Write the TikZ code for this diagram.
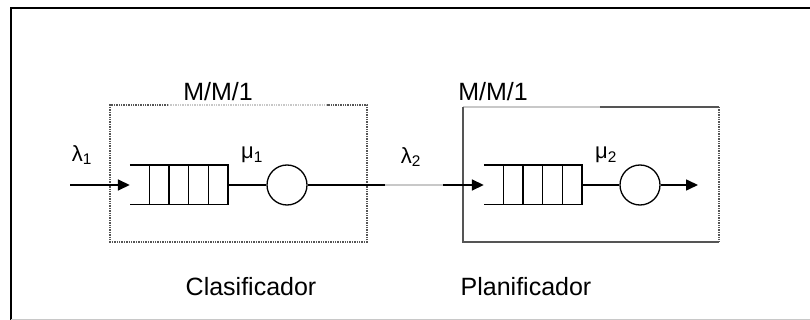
\documentclass[tikz,border=0pt]{standalone}
\usepackage{fontspec}
\setmainfont{Liberation Sans}
\usetikzlibrary{arrows.meta,positioning}
\definecolor{boxgray}{HTML}{555555}
\definecolor{fadegray}{HTML}{C8C8C8}

\begin{document}
\begin{tikzpicture}[x=1pt, y=-1pt,
  every node/.style={font=\fontsize{25}{28}\selectfont, inner sep=0pt},
  rate/.style={font=\fontsize{22}{24}\selectfont},
  queuebox/.style={minimum width=98pt, minimum height=39pt},
  server/.style={circle, draw, line width=1.3pt, minimum size=40pt},
  wire/.style={line width=1.6pt},
  station/.style={draw=boxgray, line width=1.4pt},
  >={Triangle[length=12pt,width=11pt]},
]
  \useasboundingbox (0,0) rectangle (810,320);

  % outer frame
  \draw[line width=1.6pt] (11,320) -- (11,8) -- (810,8);
  \draw[fadegray, line width=1pt] (11,319) -- (810,319);

  % first station: M/M/1 classifier
  \draw[station, densely dotted] (168,105) -- (110,105) -- (110,242) -- (367,242) -- (367,105) -- (327,105);
  \draw[station, densely dotted, fadegray] (168,105) -- (327,105);
  \node (q1) [queuebox] at (179,185) {};
  \node (s1) [server] at (287,185) {};
  \draw[wire] (q1.north west) -- (q1.north east) -- (q1.south east) -- (q1.south west);
  \foreach \i in {1,...,4}
    \draw[line width=1.3pt] (q1.north west) ++(\i*19.6,0) -- ++(0,39);

  % second station: M/M/1 scheduler
  \draw[station] (600,107) -- (719,107);
  \draw[station, fadegray] (463,107) -- (600,107);
  \draw[station] (463,107) -- (463,242) -- (719,242);
  \draw[station, densely dotted] (719,107) -- (719,242);
  \node (q2) [queuebox] at (533,185) {};
  \node (s2) [server] at (640,185) {};
  \draw[wire] (q2.north west) -- (q2.north east) -- (q2.south east) -- (q2.south west);
  \foreach \i in {1,...,4}
    \draw[line width=1.3pt] (q2.north west) ++(\i*19.6,0) -- ++(0,39);

  % flow
  \coordinate (in1) at (70,185);
  \coordinate (gap1) at (385,185);
  \coordinate (gap2) at (443,185);
  \coordinate (out2) at (698,185);
  \draw[->, wire] (in1) -- (q1.west);
  \draw[wire] (q1.east) -- (s1.west);
  \draw[wire] (s1.east) -- (gap1);
  \draw[wire, fadegray] (gap1) -- (gap2);
  \draw[->, wire] (gap2) -- (q2.west);
  \draw[wire] (q2.east) -- (s2.west);
  \draw[->, wire] (s2.east) -- (out2);

  % labels
  \node (mm1) at (218,92) {M/M/1};
  \node (mm2) at (493,92) {M/M/1};
  \node (lam1) [rate] at (82,155) {λ\textsubscript{1}};
  \node (mu1) [rate] at (252,155) {μ\textsubscript{1}};
  \node (lam2) [rate] at (411,157) {λ\textsubscript{2}};
  \node (mu2) [rate] at (606,155) {μ\textsubscript{2}};
  \node (cls) at (251,287) {Clasificador};
  \node (pla) at (526,287) {Planificador};
\end{tikzpicture}
\end{document}
